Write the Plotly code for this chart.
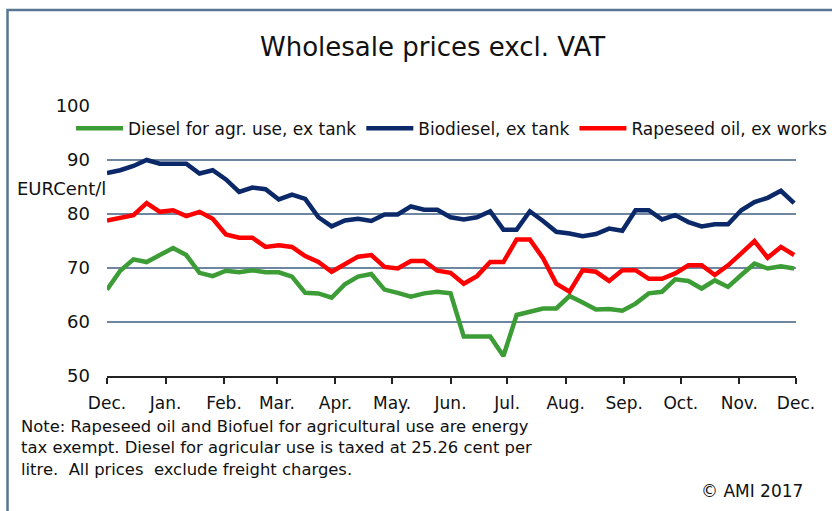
import plotly.graph_objects as go
import pandas as pd

dates = pd.date_range("2016-12-01", periods=53, freq="7D")

diesel = [66.0, 69.5, 71.6, 71.1, 72.4, 73.7, 72.4, 69.1, 68.5, 69.5, 69.2, 69.6, 69.2,
          69.2, 68.4, 65.4, 65.3, 64.5, 67.0, 68.4, 68.9, 66.0, 65.4, 64.7, 65.3, 65.6,
          65.3, 57.3, 57.3, 57.3, 53.7, 61.3, 61.9, 62.5, 62.5, 64.8, 63.6, 62.3, 62.4,
          62.1, 63.4, 65.3, 65.6, 67.9, 67.6, 66.2, 67.7, 66.5, 68.7, 70.8, 69.9, 70.3, 69.9]
biodiesel = [87.6, 88.1, 88.9, 90.0, 89.3, 89.3, 89.3, 87.5, 88.1, 86.4, 84.1, 84.9, 84.6,
             82.7, 83.6, 82.8, 79.4, 77.7, 78.8, 79.1, 78.7, 79.9, 79.9, 81.4, 80.8, 80.8,
             79.4, 79.0, 79.4, 80.5, 77.1, 77.1, 80.5, 78.7, 76.7, 76.4, 75.9, 76.3, 77.3,
             76.9, 80.7, 80.7, 79.0, 79.8, 78.5, 77.7, 78.1, 78.1, 80.7, 82.2, 83.0, 84.3, 82.0]
rapeseed = [78.8, 79.4, 79.8, 82.0, 80.4, 80.7, 79.6, 80.4, 79.1, 76.2, 75.6, 75.6, 73.9,
            74.2, 73.9, 72.2, 71.1, 69.3, 70.8, 72.1, 72.4, 70.2, 69.9, 71.3, 71.3, 69.5,
            69.1, 67.1, 68.5, 71.1, 71.1, 75.3, 75.3, 71.8, 67.1, 65.6, 69.6, 69.3, 67.6,
            69.6, 69.6, 68.0, 68.0, 69.0, 70.5, 70.5, 68.7, 70.5, 72.7, 75.0, 71.9, 73.9, 72.4]

series_names = ["Diesel for agr. use, ex tank", "Biodiesel, ex tank", "Rapeseed oil, ex works"]
series_colors = ["#3c9c35", "#0b2868", "#ff0000"]

month_ticks = pd.date_range("2016-12-01", "2017-12-01", freq="MS")
month_labels = ["Dec.", "Jan.", "Feb.", "Mar.", "Apr.", "May.", "Jun.", "Jul.",
                "Aug.", "Sep.", "Oct.", "Nov.", "Dec."]
y_ticks = [50, 60, 70, 80, 90, 100]

FONT = "DejaVu Sans"
TXT = "#111111"

fig = go.Figure()
for name, vals, col in zip(series_names, [diesel, biodiesel, rapeseed], series_colors):
    fig.add_trace(go.Scatter(x=dates, y=vals, mode="lines", name=name,
                             line=dict(color=col, width=4.5)))

fig.update_layout(
    width=832, height=511,
    margin=dict(l=107, r=36, t=106, b=135),
    paper_bgcolor="white", plot_bgcolor="white",
    font=dict(family=FONT, color=TXT),
    showlegend=True,
    legend=dict(orientation="h", x=-0.047, xanchor="left", y=1.002, yanchor="top",
                font=dict(family=FONT, size=17, color=TXT),
                title=dict(text="&nbsp;", side="top", font=dict(size=4, color="white")),
                bgcolor="rgba(0,0,0,0)", itemwidth=47),
    xaxis=dict(range=[month_ticks[0], month_ticks[-1]], tickvals=month_ticks,
               ticktext=month_labels, showgrid=False, showline=True,
               linecolor="#222222", linewidth=1.5, ticks="outside", ticklen=6,
               tickcolor="#222222", tickwidth=1.5, ticklabelstandoff=5,
               tickfont=dict(family=FONT, size=17, color=TXT)),
    yaxis=dict(range=[50, 100], tickvals=y_ticks, showgrid=True,
               gridcolor="#6f86a0", gridwidth=1.5, zeroline=False, showline=False,
               ticklabelstandoff=16,
               tickfont=dict(family=FONT, size=18, color=TXT)),
    shapes=[dict(type="rect", xref="paper", yref="paper", x0=-0.1444, x1=1.2,
                 y0=-0.6, y1=1.3556, line=dict(color="#587592", width=2.5),
                 fillcolor="rgba(0,0,0,0)", layer="below")],
    annotations=[
        dict(text="Wholesale prices excl. VAT", xref="paper", yref="paper",
             x=0.473, y=1.2185, xanchor="center", yanchor="middle", showarrow=False,
             font=dict(family=FONT, size=26, color=TXT)),
        dict(text="EURCent/l", xref="paper", yref="paper", x=0.002, y=0.696,
             xanchor="right", yanchor="middle", showarrow=False,
             font=dict(family=FONT, size=18, color=TXT)),
        dict(text="Note: Rapeseed oil and Biofuel for agricultural use are energy<br>"
                  "tax exempt. Diesel for agricular use is taxed at 25.26 cent per<br>"
                  "litre.  All prices  exclude freight charges.",
             xref="paper", yref="paper", x=-0.1277, y=-0.145, xanchor="left",
             yanchor="top", align="left", showarrow=False,
             font=dict(family=FONT, size=16.4, color=TXT)),
        dict(text="© AMI 2017", xref="paper", yref="paper", x=1.013, y=-0.426,
             xanchor="right", yanchor="middle", showarrow=False,
             font=dict(family=FONT, size=17, color=TXT)),
    ],
)

fig.write_html("out.html", config={"displayModeBar": False},
               post_script="document.body.style.margin='0px';"
                           "document.body.style.overflow='hidden';")
